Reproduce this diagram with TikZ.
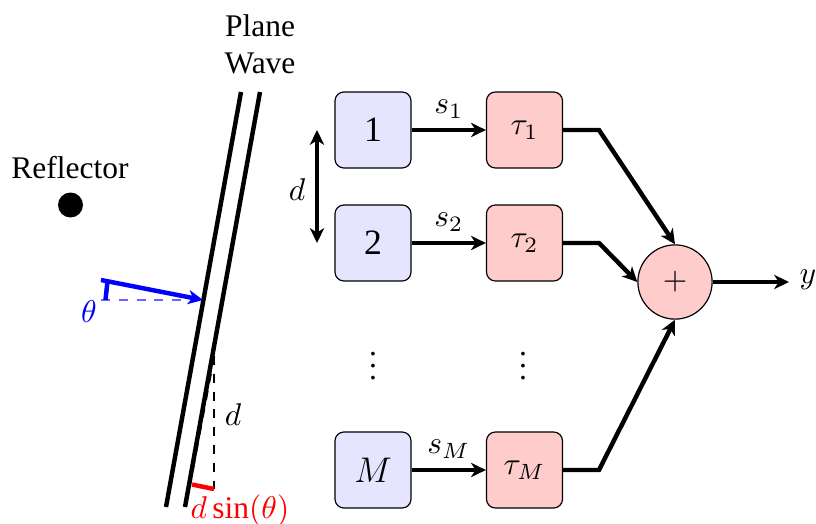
\documentclass[tikz,border=0pt]{standalone}
\usepackage{fix-cm}
\usepackage{fontspec}
\setmainfont{Liberation Serif}
\usetikzlibrary{arrows.meta}
\begin{document}
\begin{tikzpicture}[x=0.3367pt,y=-0.3367pt,
  every node/.style={font=\fontsize{10.6}{12.4}\selectfont},
  >={Stealth[length=5pt,width=4.8pt,inset=1.5pt]},
  ant/.style={draw,rounded corners=3pt,fill=blue!10,minimum size=25.6pt,inner sep=0pt,font=\fontsize{12}{14}\selectfont},
  delay/.style={draw,rounded corners=3pt,fill=red!20,minimum size=25.6pt,inner sep=0pt},
  sum/.style={draw,circle,fill=red!20,minimum size=25pt,inner sep=0pt},
  lbl/.style={inner sep=0pt},
  wire/.style={line width=1.5pt},
  arr/.style={wire,->},
  lane/.style={line width=1.5pt}]
\useasboundingbox (0,0) rectangle (816,524);
% boxes
\node[ant] (a1) at (373,130) {1};
\node[ant] (a2) at (373,243) {2};
\node[ant] (aM) at (373,470) {$M$};
\node[delay] (t1) at (524.5,130) {$\tau_1$};
\node[delay] (t2) at (524.5,243) {$\tau_2$};
\node[delay] (tM) at (524.5,470) {$\tau_M$};
\node[sum] (sum) at (675,282) {$+$};
\node[lbl] (y) at (808,280) {$y$};
\node[lbl] (dots1) at (373,357) {$\vdots$};
\node[lbl] (dots2) at (523,357) {$\vdots$};
% bends
\coordinate (b1) at (599,130);
\coordinate (b2) at (599,243);
\coordinate (bM) at (599,470);
\draw[arr] (a1) -- node[above=3.2pt,lbl] (s1) {$s_1$} (t1);
\draw[arr] (a2) -- node[above=3.2pt,lbl] (s2) {$s_2$} (t2);
\draw[arr] (aM) -- node[above=3.2pt,lbl] (sM) {$s_M$} (tM);
\draw[wire,->] (t1) -- (b1) -- (sum.north);
\draw[wire,->] (t2) -- (b2) -- (sum.west);
\draw[wire,->] (tM) -- (bM) -- (sum.south);
\coordinate (yend) at (789,282);
\draw[arr] (sum) -- (yend);
% spacing arrow
\coordinate (d1) at (317,130);
\coordinate (d2) at (317,243);
\draw[wire,<->] (d1) -- (d2);
\node[lbl] (dl) at (297,190) {$d$};
% plane wave
\node[lbl,align=center] (pw) at (260,44) {Plane\\Wave};
\coordinate (p1a) at (241,92);
\coordinate (p1b) at (166,507);
\coordinate (p2a) at (260,92);
\coordinate (p2b) at (185,507);
\draw[lane] (p1a) -- (p1b);
\draw[lane] (p2a) -- (p2b);
% reflector
\node[lbl] (refl) at (70,168) {Reflector};
\node[draw,circle,fill=black,minimum size=8pt,inner sep=0pt] (ball) at (70.5,205) {};
% angle
\coordinate (ba) at (101,280);
\coordinate (bb) at (203,300);
\coordinate (bc) at (101,300);
\coordinate (bd) at (107.5,281);
\coordinate (be) at (105.5,300);
\draw[blue,dashed,opacity=.6] (bc) -- (bb);
\draw[blue,wire,->] (ba) -- (bb);
\draw[blue,wire] (bd) -- (be);
\node[lbl,text=blue] (th) at (89,312) {$\theta$};
% projection
\coordinate (ca) at (214,356);
\coordinate (cb) at (214,489);
\coordinate (cc) at (192,484.5);
\coordinate (cd) at (190,484);
\draw[dashed,line width=.8pt] (ca) -- (cb);
\draw[dashed,line width=.8pt] (ca) -- (cd);
\draw[red,wire] (cc) -- (cb);
\node[lbl] (d3) at (233,415) {$d$};
\node[lbl,text=red] (ds) at (240,511) {$d\sin(\theta)$};
\end{tikzpicture}
\end{document}
